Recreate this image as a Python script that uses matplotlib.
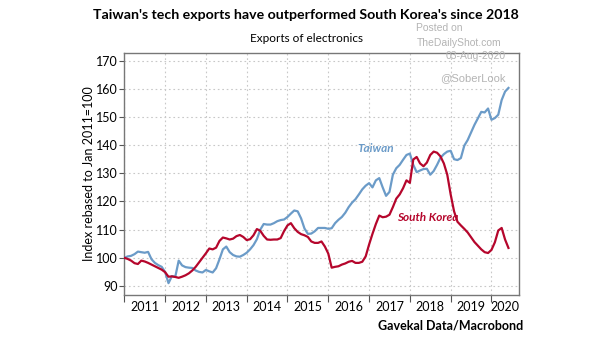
import numpy as np
import matplotlib
matplotlib.use("Agg")
import matplotlib.pyplot as plt

# Monthly index, Jan 2011 = 100 (Jan 2011 .. Jun 2020)
taiwan = [
    100, 100.5, 100.7, 101.3, 102.2, 102, 101.8, 102.1, 99.5, 98.2, 97.4, 96.8,
    95, 91, 93.5, 93.3, 99, 97.3, 96.7, 96.5, 96.4, 95.5, 95, 94.8,
    95.7, 95.2, 94.8, 96.3, 99.5, 103, 104, 102, 101, 100.5, 100.4, 101,
    101.8, 103, 104.5, 106.6, 110, 112, 111.8, 111.8, 112.3, 113, 113.4, 113.6,
    114.5, 115.7, 116.8, 116.5, 114, 110.4, 108.5, 108.6, 109.4, 110.6, 110.6, 110.6,
    110.3, 110.5, 112.3, 113.5, 114.5, 116, 118, 119.6, 120.8, 122.5, 124.3, 125.6,
    126.5, 125, 127.5, 128.3, 125, 122, 123.4, 129.5, 131.8, 133, 134.8, 136.5,
    137, 133, 130.4, 131, 131.5, 131.6, 129.5, 130.8, 133, 135.5, 136.8, 137.7,
    138, 135, 134.7, 135.4, 139.8, 141.8, 144.5, 147.2, 149.5, 151.8, 151.6, 153,
    149, 149.6, 150.8, 156, 159, 160.3,
]
south_korea = [
    100, 99.6, 99, 98.1, 97.8, 99, 98.7, 98.2, 97.6, 97, 96.4, 95.8,
    94.9, 93.3, 93.4, 93.2, 92.9, 93.3, 93.8, 94.5, 95.5, 96.8, 98.4, 100,
    101.6, 103.3, 103, 103.6, 106, 107.2, 106.9, 106.5, 106.8, 107.7, 108.1, 107.4,
    106.3, 106.6, 108, 110.2, 109.6, 107.8, 106.5, 106.4, 106.5, 106.5, 107, 109.5,
    111.5, 112.3, 110.5, 109.2, 108.4, 108, 107.4, 105.8, 105.3, 105.3, 105.8, 104,
    101.5, 96.5, 96.8, 97, 97.6, 98, 98.6, 98.9, 98.2, 98.2, 98.6, 100.5,
    104.7, 108.5, 112, 115, 114.4, 114.6, 115.3, 118, 121, 122.5, 124.7, 127.5,
    126.6, 134.9, 135.8, 133.5, 132.5, 133.8, 136.5, 137.7, 137.3, 136, 133.5, 129.5,
    122.5, 116.5, 112.8, 111.5, 110.3, 109, 107.3, 105.6, 104.3, 103, 102, 101.7,
    102.8, 105.5, 109.7, 110.6, 106.5, 103.5,
]
years = [str(y) for y in range(2011, 2021)]
y_ticks = [90, 100, 110, 120, 130, 140, 150, 160, 170]

plt.rcParams["font.family"] = ["Lato", "DejaVu Sans"]

blue = "#6b9bc8"
red = "#b5062c"

months = np.arange(len(taiwan))
x_right = 116.1

fig = plt.figure(figsize=(6.05, 3.41), dpi=100)
ax = fig.add_axes([124.3 / 605, 1 - 295 / 341, (519 - 124.3) / 605, (295 - 53) / 341])

ax.plot(months, taiwan, color=blue, lw=1.6, zorder=3)
ax.plot(months, south_korea, color=red, lw=1.6, zorder=3)

ax.set_xlim(0, x_right)
ax.set_ylim(86.8, 172.7)

# year boundaries as major ticks, labels centred in each year
ax.set_xticks(np.arange(0, 109, 12))
ax.set_xticklabels([])
label_pos = [i * 12 + 6 for i in range(9)] + [(108 + x_right) / 2]
ax.set_xticks(label_pos, minor=True)
ax.set_xticklabels(years, minor=True)
ax.tick_params(axis="x", which="major", direction="out", length=5, color="#555555")
ax.tick_params(axis="x", which="minor", length=0, pad=4, labelsize=9)
ax.set_yticks(y_ticks)
ax.tick_params(axis="y", direction="out", length=3.5, color="#555555", labelsize=9, pad=1)

ax.grid(True, which="major", color="#c8c8c8", linestyle=(0, (1.5, 2.5)), lw=0.8)
for s in ax.spines.values():
    s.set_color("#777777")
    s.set_linewidth(1.0)

ax.set_ylabel("Index rebased to Jan 2011=100", fontsize=9, labelpad=1)

ax.text(68.7, 138.8, "Taiwan", color=blue, fontsize=8.5, fontstyle="italic",
        fontweight="bold", va="center", zorder=4)
ax.text(80.2, 114.3, "South Korea", color=red, fontsize=8.5, fontstyle="italic",
        fontweight="bold", va="center", zorder=4)

fig.text(306 / 605, 1 - 15 / 341, "Taiwan's tech exports have outperformed South Korea's since 2018",
         ha="center", va="center", fontsize=10.2, fontweight="bold")
fig.text(306 / 605, 1 - 38 / 341, "Exports of electronics", ha="center", va="center", fontsize=8.5)

wm = "#b4b4b4"
wm_font = ["Liberation Sans", "DejaVu Sans"]
fig.text(439 / 605, 1 - 28 / 341, "Posted on", ha="center", va="center", fontsize=7.5,
         color=wm, family=wm_font)
fig.text(459 / 605, 1 - 43 / 341, "TheDailyShot.com", ha="center", va="center", fontsize=7.5,
         color=wm, family=wm_font)
fig.text(476 / 605, 1 - 56 / 341, "03-Aug-2020", ha="center", va="center", fontsize=7.5,
         color=wm, family=wm_font)
fig.text(473 / 605, 1 - 78 / 341, "@SoberLook", ha="center", va="center", fontsize=8,
         color=wm, family=wm_font)

fig.text(523 / 605, 1 - 325 / 341, "Gavekal Data/Macrobond", ha="right", va="center",
         fontsize=9, fontweight="bold")

fig.savefig("out.png", dpi=100)
